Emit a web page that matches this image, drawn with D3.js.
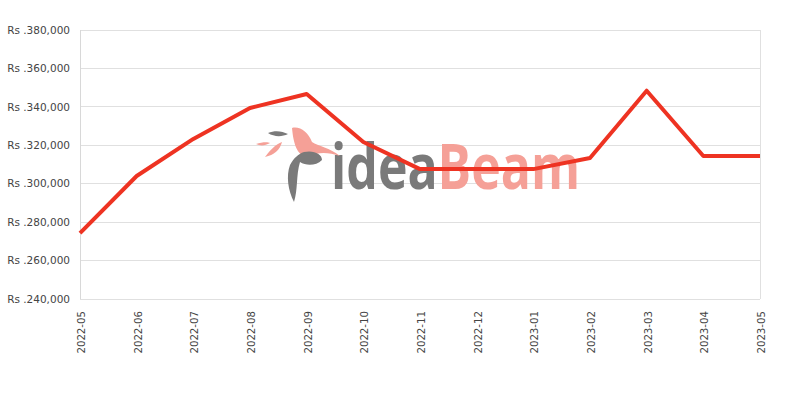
<!DOCTYPE html>
<html><head><meta charset="utf-8">
<script src="https://cdn.jsdelivr.net/npm/d3@7"></script>
<style>body{margin:0;background:#fff}svg{display:block}</style>
</head><body>
<svg id="c" width="800" height="400"></svg>
<script>
const months = ["2022-05","2022-06","2022-07","2022-08","2022-09","2022-10","2022-11","2022-12","2023-01","2023-02","2023-03","2023-04","2023-05"];
const prices = [274300,304000,323300,339400,346700,321700,307600,307600,307600,313400,348400,314400,314400];
const yTicks = [240000,260000,280000,300000,320000,340000,360000,380000];

const svg = d3.select("#c");
const m = {l:80, r:760, t:30, b:299};
const x = d3.scalePoint().domain(months).range([m.l, m.r]);
const y = d3.scaleLinear().domain([240000,380000]).range([m.b, m.t]);
const fmt = d3.format(",");

// grid
svg.append("g").selectAll("line").data(yTicks).join("line")
  .attr("x1", m.l).attr("x2", m.r).attr("y1", d=>y(d)).attr("y2", d=>y(d))
  .attr("stroke", "#e0e0e0").attr("stroke-width", 1).attr("shape-rendering","crispEdges");
svg.append("line").attr("x1",m.l).attr("x2",m.l).attr("y1",m.t).attr("y2",m.b)
  .attr("stroke","#d8d8d8").attr("shape-rendering","crispEdges");
svg.append("line").attr("x1",m.r).attr("x2",m.r).attr("y1",m.t).attr("y2",m.b)
  .attr("stroke","#e0e0e0").attr("shape-rendering","crispEdges");

// y labels
svg.append("g").selectAll("text").data(yTicks).join("text")
  .attr("x", 70).attr("y", d=>y(d)).attr("dy","0.35em")
  .attr("text-anchor","end").attr("font-family","DejaVu Sans").attr("font-size",10.5)
  .attr("fill","#444").text(d=>"Rs ." + fmt(d));

// x labels
svg.append("g").selectAll("text").data(months).join("text")
  .attr("transform", d=>`translate(${x(d)+5},311) rotate(-90)`)
  .attr("text-anchor","end").attr("font-family","DejaVu Sans").attr("font-size",10.2)
  .attr("fill","#444").text(d=>d);

// watermark
const defs = svg.append("defs");
const g = defs.append("linearGradient").attr("id","wmg").attr("gradientUnits","userSpaceOnUse")
  .attr("x1",330).attr("x2",580).attr("y1",0).attr("y2",0);
g.append("stop").attr("offset",0.434).attr("stop-color","#7a7a7a");
g.append("stop").attr("offset",0.434).attr("stop-color","#f5a097");
const wm = svg.append("g");
wm.append("text").attr("x",331).attr("y",189).attr("font-family","Open Sans")
  .attr("font-size",62).attr("font-weight",700).attr("fill","url(#wmg)")
  .attr("textLength",249).attr("lengthAdjust","spacingAndGlyphs").text("ideaBeam");
// bird-ish shapes
wm.append("path").attr("d","M292,128 C300,126 308,132 312,142 C318,146 330,148 340,156 C328,152 318,152 310,156 C300,158 294,150 292,128 Z").attr("fill","#f5a097");
wm.append("path").attr("d","M268,133 C275,130 282,131 288,134 C282,137 274,137 268,133 Z").attr("fill","#7a7a7a");
wm.append("path").attr("d","M256,144 C262,142 268,142 270,143 C265,146 260,146 256,144 Z").attr("fill","#f5a097");
wm.append("path").attr("d","M265,157 C270,150 276,144 282,142 C280,150 274,155 265,157 Z").attr("fill","#f5a097");
wm.append("path").attr("d","M304,152 C314,150 322,154 322,160 C316,166 306,166 300,162 C296,175 298,190 294,202 C288,190 286,176 290,165 C294,158 298,154 304,152 Z").attr("fill","#7a7a7a");

// line
const line = d3.line().x((d,i)=>x(months[i])).y(d=>y(d));
svg.append("path").datum(prices).attr("d", line)
  .attr("fill","none").attr("stroke","#ee3322").attr("stroke-width",4).attr("stroke-linejoin","round");
</script>
</body></html>
